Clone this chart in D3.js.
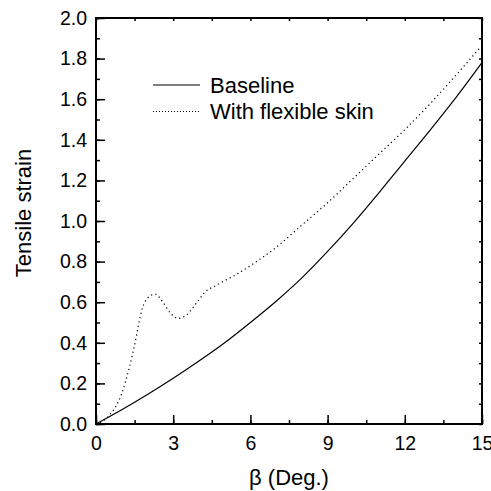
<!DOCTYPE html>
<html><head><meta charset="utf-8">
<script src="https://cdn.jsdelivr.net/npm/d3@7"></script>
<style>body{margin:0;background:#fff}svg{display:block}text{font-family:Arial,"Liberation Sans",sans-serif;fill:#000}</style>
</head><body>
<script>
const baselineX = [0,1,2,3,4,5,6,7,8,9,10,11,12,13,14,15];
const baselineY = [0,0.07,0.145,0.225,0.31,0.40,0.50,0.605,0.72,0.85,0.99,1.14,1.295,1.45,1.61,1.78];
const skinX = [0,0.5,1.0,1.3,1.5,1.8,2.0,2.3,2.6,2.9,3.2,3.5,3.9,4.2,4.7,5.5,6,7,8,9,10,11,12,13,14,15];
const skinY = [0,0.04,0.15,0.28,0.39,0.57,0.62,0.64,0.60,0.545,0.52,0.535,0.595,0.645,0.685,0.74,0.78,0.87,0.98,1.09,1.21,1.33,1.45,1.58,1.72,1.865];
const xTicks = [0,3,6,9,12,15];
const yTicks = [0,0.2,0.4,0.6,0.8,1.0,1.2,1.4,1.6,1.8,2.0];
const seriesNames = ["Baseline","With flexible skin"];

const W=491,H=491;
const m={l:96,r:9,t:18,b:67};
const svg=d3.select("body").append("svg").attr("width",W).attr("height",H);
const x=d3.scaleLinear().domain([0,15]).range([m.l,W-m.r]);
const y=d3.scaleLinear().domain([0,2]).range([H-m.b,m.t]);
const xMinor=d3.range(0,15.01,1.5), yMinor=d3.range(0,2.001,0.1);

const g=svg.append("g");
g.append("g").attr("transform",`translate(0,${y(0)})`).call(d3.axisBottom(x).tickValues(xMinor).tickSize(-4).tickFormat("")).call(a=>a.select(".domain").remove());
g.append("g").attr("transform",`translate(0,${y(0)})`).call(d3.axisBottom(x).tickValues(xTicks).tickSize(-9).tickPadding(12).tickFormat(d3.format("d"))).call(a=>a.select(".domain").remove());
g.append("g").attr("transform",`translate(${x(0)},0)`).call(d3.axisLeft(y).tickValues(yMinor).tickSize(-4).tickFormat("")).call(a=>a.select(".domain").remove());
g.append("g").attr("transform",`translate(${x(0)},0)`).call(d3.axisLeft(y).tickValues(yTicks).tickSize(-9).tickPadding(9).tickFormat(d3.format(".1f"))).call(a=>a.select(".domain").remove());
g.append("g").attr("transform",`translate(0,${y(2)})`).call(d3.axisTop(x).tickValues(xMinor).tickSize(-3).tickFormat("")).call(a=>a.select(".domain").remove());
g.append("g").attr("transform",`translate(${x(15)},0)`).call(d3.axisRight(y).tickValues(yMinor).tickSize(-3).tickFormat("")).call(a=>a.select(".domain").remove());
g.selectAll(".tick line").attr("stroke","#000").attr("stroke-width",1.5);
g.selectAll(".tick text").attr("font-size",19.5).attr("font-family","Arial, Liberation Sans, sans-serif");

svg.append("rect").attr("x",x(0)).attr("y",y(2)).attr("width",x(15)-x(0)).attr("height",y(0)-y(2)).attr("fill","none").attr("stroke","#000").attr("stroke-width",2);

const line=d3.line().x(d=>x(d[0])).y(d=>y(d[1])).curve(d3.curveMonotoneX);
svg.append("path").datum(baselineX.map((v,i)=>[v,baselineY[i]])).attr("d",line).attr("fill","none").attr("stroke","#000").attr("stroke-width",1.2);
svg.append("path").datum(skinX.map((v,i)=>[v,skinY[i]])).attr("d",line).attr("fill","none").attr("stroke","#000").attr("stroke-width",1.2).attr("stroke-dasharray","1.2,3.2");

const lg=svg.append("g");
[0,1].forEach(i=>{
  const yy=85+i*26.5;
  lg.append("line").attr("x1",153).attr("x2",200).attr("y1",yy).attr("y2",yy).attr("stroke","#000").attr("stroke-width",1).attr("stroke-dasharray",i?"1,2":null);
  lg.append("text").attr("x",210).attr("y",yy).attr("dy","0.35em").attr("font-size",22).text(seriesNames[i]);
});

svg.append("text").attr("x",(x(0)+x(15))/2).attr("y",485).attr("text-anchor","middle").attr("font-size",22).text("β (Deg.)");
svg.append("text").attr("transform",`translate(31,213) rotate(-90)`).attr("text-anchor","middle").attr("font-size",22).text("Tensile strain");
</script>
</body></html>
